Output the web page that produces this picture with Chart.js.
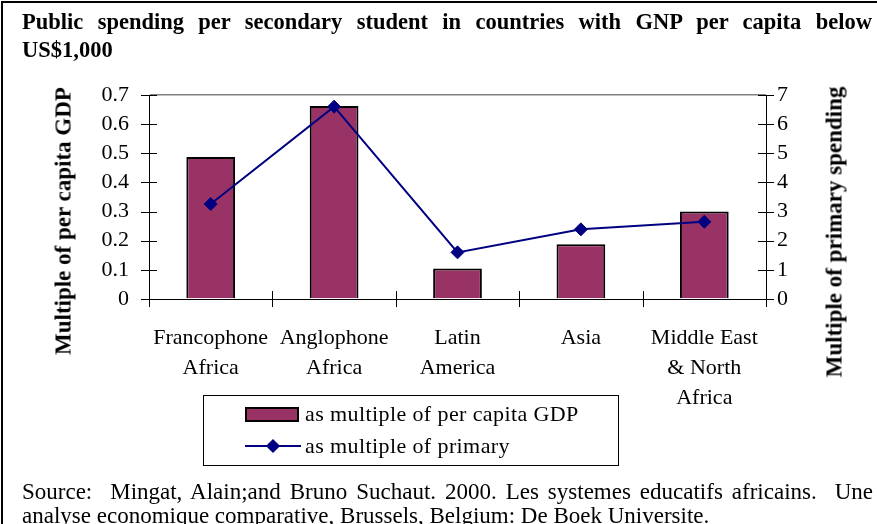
<!DOCTYPE html>
<html>
<head>
<meta charset="utf-8">
<script src="https://cdn.jsdelivr.net/npm/chart.js@4/dist/chart.umd.min.js"></script>
<style>
  html, body { margin: 0; padding: 0; background: #fff; width: 877px; height: 524px; overflow: hidden; }
  body { position: relative; font-family: "Liberation Serif", "Times New Roman", serif; color: #000; }
  #wrap { position: absolute; left: 0; top: 0; width: 877px; height: 524px; }
  #frameTop { position: absolute; left: 1px; top: 1px; width: 900px; height: 2px; background: #000; }
  #frameLeft { position: absolute; left: 1px; top: 1px; width: 2px; height: 600px; background: #000; }
  .jline { text-align: justify; text-align-last: justify; white-space: normal; }
  #title { position: absolute; left: 22px; top: 8px; width: 850px; font-weight: bold; font-size: 22.5px; line-height: 28px; }
  .axTitle { position: absolute; font-weight: bold; font-size: 23px; line-height: 23px; white-space: nowrap; transform: translate(-50%, -50%) rotate(-90deg); }
  #legend { position: absolute; left: 203px; top: 395px; width: 416px; height: 71px; border: 1px solid #000; box-sizing: border-box; }
  .lgRow { position: absolute; left: 0; height: 24px; font-size: 22px; line-height: 24px; white-space: nowrap; letter-spacing: 0.4px; }
  .lgText { position: absolute; left: 101px; top: 0; }
  #source { position: absolute; left: 22px; top: 480px; width: 851px; font-size: 23px; line-height: 24px; }
  canvas { position: absolute; left: 0; top: 0; }
</style>
</head>
<body>
<div id="wrap">
  <canvas id="c" width="877" height="524"></canvas>
  <div id="frameTop"></div>
  <div id="frameLeft"></div>
  <div id="title"><div class="jline">Public spending per secondary student in countries with GNP per capita below</div><div>US$1,000</div></div>
  <div class="axTitle" id="yTitleL" style="left:63px; top:221px;">Multiple of per capita GDP</div>
  <div class="axTitle" id="yTitleR" style="left:834px; top:232px;">Multiple of primary spending</div>
  <div id="legend"></div>
  <div id="source"><div class="jline">Source:&nbsp; Mingat, Alain;and Bruno Suchaut. 2000. Les systemes educatifs africains.&nbsp; Une</div><div>analyse economique comparative, Brussels, Belgium: De Boek Universite.</div></div>
</div>
<script>
// ---- data ----
const categories = [["Francophone", "Africa"], ["Anglophone", "Africa"], ["Latin", "America"], ["Asia"], ["Middle East", "& North", "Africa"]];
const gdpMultiple = [0.487, 0.662, 0.105, 0.188, 0.30];
const primaryMultiple = [3.26, 6.6, 1.6, 2.39, 2.65];
const seriesLabels = ["as multiple of per capita GDP", "as multiple of primary"];
const leftTicks = [0, 0.1, 0.2, 0.3, 0.4, 0.5, 0.6, 0.7];
const leftTickLabels = ["0", "0.1", "0.2", "0.3", "0.4", "0.5", "0.6", "0.7"];
const rightTicks = [0, 1, 2, 3, 4, 5, 6, 7];
const rightTickLabels = ["0", "1", "2", "3", "4", "5", "6", "7"];

const BAR_COLOR = '#993366';
const LINE_COLOR = '#000080';
const FONT = { family: '"Liberation Serif", "Times New Roman", serif', size: 22 };

// ---- crossing tick marks plugin ----
const crossTicks = {
  id: 'crossTicks',
  afterDraw(chart) {
    const ctx = chart.ctx;
    const ca = chart.chartArea;
    const L = 8;
    ctx.save();
    ctx.strokeStyle = '#000';
    ctx.lineWidth = 1;
    ctx.beginPath();
    const yL = chart.scales.y;
    yL.ticks.forEach((t) => {
      const p = Math.round(yL.getPixelForValue(t.value)) + 0.5;
      ctx.moveTo(ca.left - L, p); ctx.lineTo(ca.left + L, p);
    });
    const yR = chart.scales.y1;
    yR.ticks.forEach((t) => {
      const p = Math.round(yR.getPixelForValue(t.value)) + 0.5;
      ctx.moveTo(ca.right - L, p); ctx.lineTo(ca.right + L, p);
    });
    const xs = chart.scales.x;
    for (let i = 0; i <= categories.length; i++) {
      const p = Math.round(xs.getPixelForValue(i - 0.5)) + 0.5;
      ctx.moveTo(p, ca.bottom - L); ctx.lineTo(p, ca.bottom + L);
    }
    ctx.stroke();
    ctx.restore();
  }
};

const chart = new Chart(document.getElementById('c'), {
  data: {
    labels: categories,
    datasets: [
      {
        type: 'line',
        label: seriesLabels[1],
        data: primaryMultiple,
        yAxisID: 'y1',
        borderColor: LINE_COLOR,
        backgroundColor: LINE_COLOR,
        borderWidth: 2,
        pointStyle: 'rectRot',
        pointRadius: 6.5,
        pointHoverRadius: 6.5,
        pointBackgroundColor: LINE_COLOR,
        pointBorderColor: LINE_COLOR,
        pointBorderWidth: 1,
        tension: 0,
        order: 0
      },
      {
        type: 'bar',
        label: seriesLabels[0],
        data: gdpMultiple,
        yAxisID: 'y',
        backgroundColor: BAR_COLOR,
        borderColor: '#000',
        borderWidth: 2,
        barPercentage: 0.395,
        categoryPercentage: 1.0,
        order: 1
      }
    ]
  },
  options: {
    responsive: false,
    animation: false,
    devicePixelRatio: 1,
    layout: { padding: { top: 95, left: 0, right: 0, bottom: 0 } },
    plugins: { legend: { display: false }, tooltip: { enabled: false } },
    scales: {
      x: {
        type: 'category',
        offset: true,
        grid: { display: false },
        border: { display: true, color: '#000', width: 1 },
        ticks: { color: '#000', font: Object.assign({}, FONT, { lineHeight: 1.36 }), padding: 16, maxRotation: 0, autoSkip: false },
        afterFit(s) { s.height = 225; }
      },
      y: {
        position: 'left',
        min: leftTicks[0], max: leftTicks[leftTicks.length - 1],
        grid: {
          drawTicks: false,
          color: (c) => (c.tick && Math.abs(c.tick.value - leftTicks[leftTicks.length - 1]) < 1e-6) ? '#808080' : 'rgba(0,0,0,0)',
          lineWidth: 1.5
        },
        border: { display: true, color: '#000', width: 1 },
        ticks: {
          color: '#000', font: Object.assign({}, FONT, { lineHeight: 1 }), padding: 20, autoSkip: false,
          callback: (v, i) => leftTickLabels[i]
        },
        afterBuildTicks(s) { s.ticks = leftTicks.map(v => ({ value: v })); },
        afterFit(s) { s.width = 149; }
      },
      y1: {
        position: 'right',
        min: rightTicks[0], max: rightTicks[rightTicks.length - 1],
        grid: { display: false, drawTicks: false, drawOnChartArea: false },
        border: { display: true, color: '#000', width: 1 },
        ticks: {
          color: '#000', font: Object.assign({}, FONT, { lineHeight: 1 }), padding: 11, autoSkip: false,
          callback: (v, i) => rightTickLabels[i]
        },
        afterBuildTicks(s) { s.ticks = rightTicks.map(v => ({ value: v })); },
        afterFit(s) { s.width = 111; }
      }
    }
  },
  plugins: [crossTicks]
});

// ---- legend (HTML) ----
const lg = document.getElementById('legend');
const r1 = document.createElement('div');
r1.className = 'lgRow'; r1.style.top = '6px'; r1.style.width = '410px';
r1.innerHTML = '<div style="position:absolute;left:41px;top:5px;width:54px;height:15px;box-sizing:border-box;background:' + BAR_COLOR + ';border:2px solid #000"></div><div class="lgText"></div>';
r1.querySelector('.lgText').textContent = seriesLabels[0];
const r2 = document.createElement('div');
r2.className = 'lgRow'; r2.style.top = '38px'; r2.style.width = '410px';
r2.innerHTML = '<div style="position:absolute;left:41px;top:11px;width:56px;height:2px;background:' + LINE_COLOR + '"></div><div style="position:absolute;left:64px;top:7px;width:10px;height:10px;background:' + LINE_COLOR + ';transform:rotate(45deg)"></div><div class="lgText"></div>';
r2.querySelector('.lgText').textContent = seriesLabels[1];
lg.appendChild(r1); lg.appendChild(r2);
</script>
</body>
</html>
